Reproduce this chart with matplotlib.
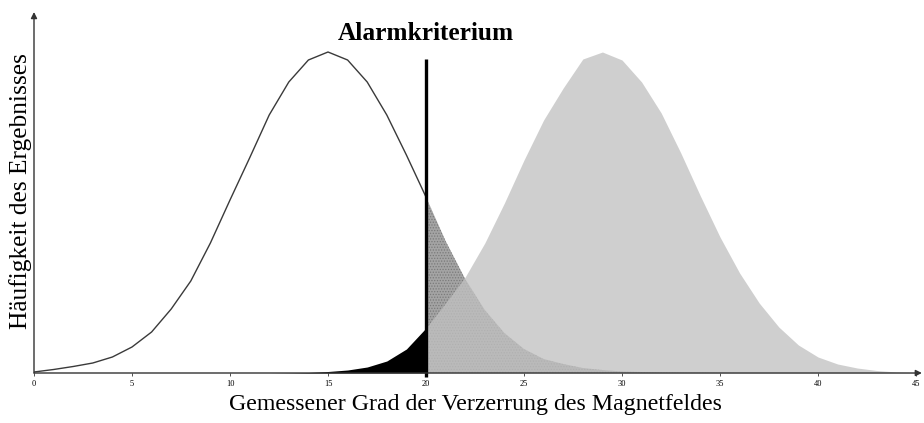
import numpy as np
import matplotlib
matplotlib.use("Agg")
import matplotlib.pyplot as plt

x_vals = list(range(0, 46))
ohne_feld = [1, 3.5, 6.5, 10, 16, 26, 41, 64, 92, 130,
             173, 215, 258, 291, 313, 321, 313, 291, 258, 218,
             176, 132, 94, 63, 40, 24, 14, 9, 5, 3,
             1.5, 1, 0.5, 0.3, 0.2, 0.1, 0, 0, 0, 0,
             0, 0, 0, 0, 0, 0]
mit_feld = [0, 0, 0, 0, 0, 0, 0, 0, 0, 0,
            0, 0, 0, 0.2, 0.5, 1.5, 3, 6, 12, 24,
            45, 70, 96, 130, 170, 213, 253, 285, 314, 321,
            313, 291, 260, 220, 177, 136, 100, 70, 46, 28,
            16, 9, 5, 2.5, 1, 0.5]
kriterium = 20
x_ticks = [0, 5, 10, 15, 20, 25, 30, 35, 40, 45]

SERIF = ["Liberation Serif", "DejaVu Serif"]

x = np.array(x_vals, dtype=float)
a = np.array(ohne_feld, dtype=float)
b = np.array(mit_feld, dtype=float)
links = x <= kriterium
rechts = x >= kriterium

fig = plt.figure(figsize=(9.24, 4.23), dpi=100, facecolor="white")
W, H = 924, 423
ax = fig.add_axes([34 / W, 50 / H, (916 - 34) / W, (373 - 12) / H])
ax.set_xlim(0, 45)
ax.set_ylim(0, 361)
for sp in ax.spines.values():
    sp.set_visible(False)

# Ausläufer der linken Verteilung jenseits des Kriteriums (schraffiert)
plt.rcParams["hatch.linewidth"] = 0.6
ax.fill_between(x[rechts], 0, a[rechts], facecolor="#a4a4a4",
                edgecolor="#7a7a7a", hatch="......", lw=0, zorder=2)
# rechte Verteilung
ax.fill_between(x[rechts], 0, b[rechts], color="#c1c1c1", alpha=0.77,
                lw=0, zorder=3)
ax.fill_between(x[links], 0, b[links], color="black", lw=0, zorder=3)
# linke Verteilung als Kurve
ax.plot(x[links], a[links], color="#3a3a3a", lw=1.0, zorder=4)

# Alarmkriterium
ax.plot([kriterium, kriterium], [-4, 314], color="black", lw=2.4,
        zorder=5, clip_on=False, solid_capstyle="butt")
ax.text(kriterium, 340, "Alarmkriterium", ha="center", va="center",
        fontsize=18.3, fontweight="bold", family=SERIF)

# Achsen mit Pfeilen
ax.annotate("", xy=(45.3, 0), xytext=(0, 0), annotation_clip=False,
            arrowprops=dict(arrowstyle="-|>", color="#333333", lw=1.0,
                            mutation_scale=9, shrinkA=0, shrinkB=0), zorder=6)
ax.annotate("", xy=(0, 361), xytext=(0, 0), annotation_clip=False,
            arrowprops=dict(arrowstyle="-|>", color="#333333", lw=1.0,
                            mutation_scale=9, shrinkA=0, shrinkB=0), zorder=6)

ax.set_xticks(x_ticks)
ax.set_xticklabels([str(t) for t in x_ticks], family=SERIF, fontsize=6)
ax.tick_params(axis="x", length=2, width=0.6, color="#333333", pad=3)
ax.set_yticks([])

ax.set_xlabel("Gemessener Grad der Verzerrung des Magnetfeldes",
              family=SERIF, fontsize=17.2, labelpad=4)
ax.set_ylabel("Häufigkeit des Ergebnisses", family=SERIF, fontsize=18.3,
              labelpad=1.5)
ax.yaxis.label.set_y(0.505)

fig.savefig("out.png", dpi=100, facecolor="white")
